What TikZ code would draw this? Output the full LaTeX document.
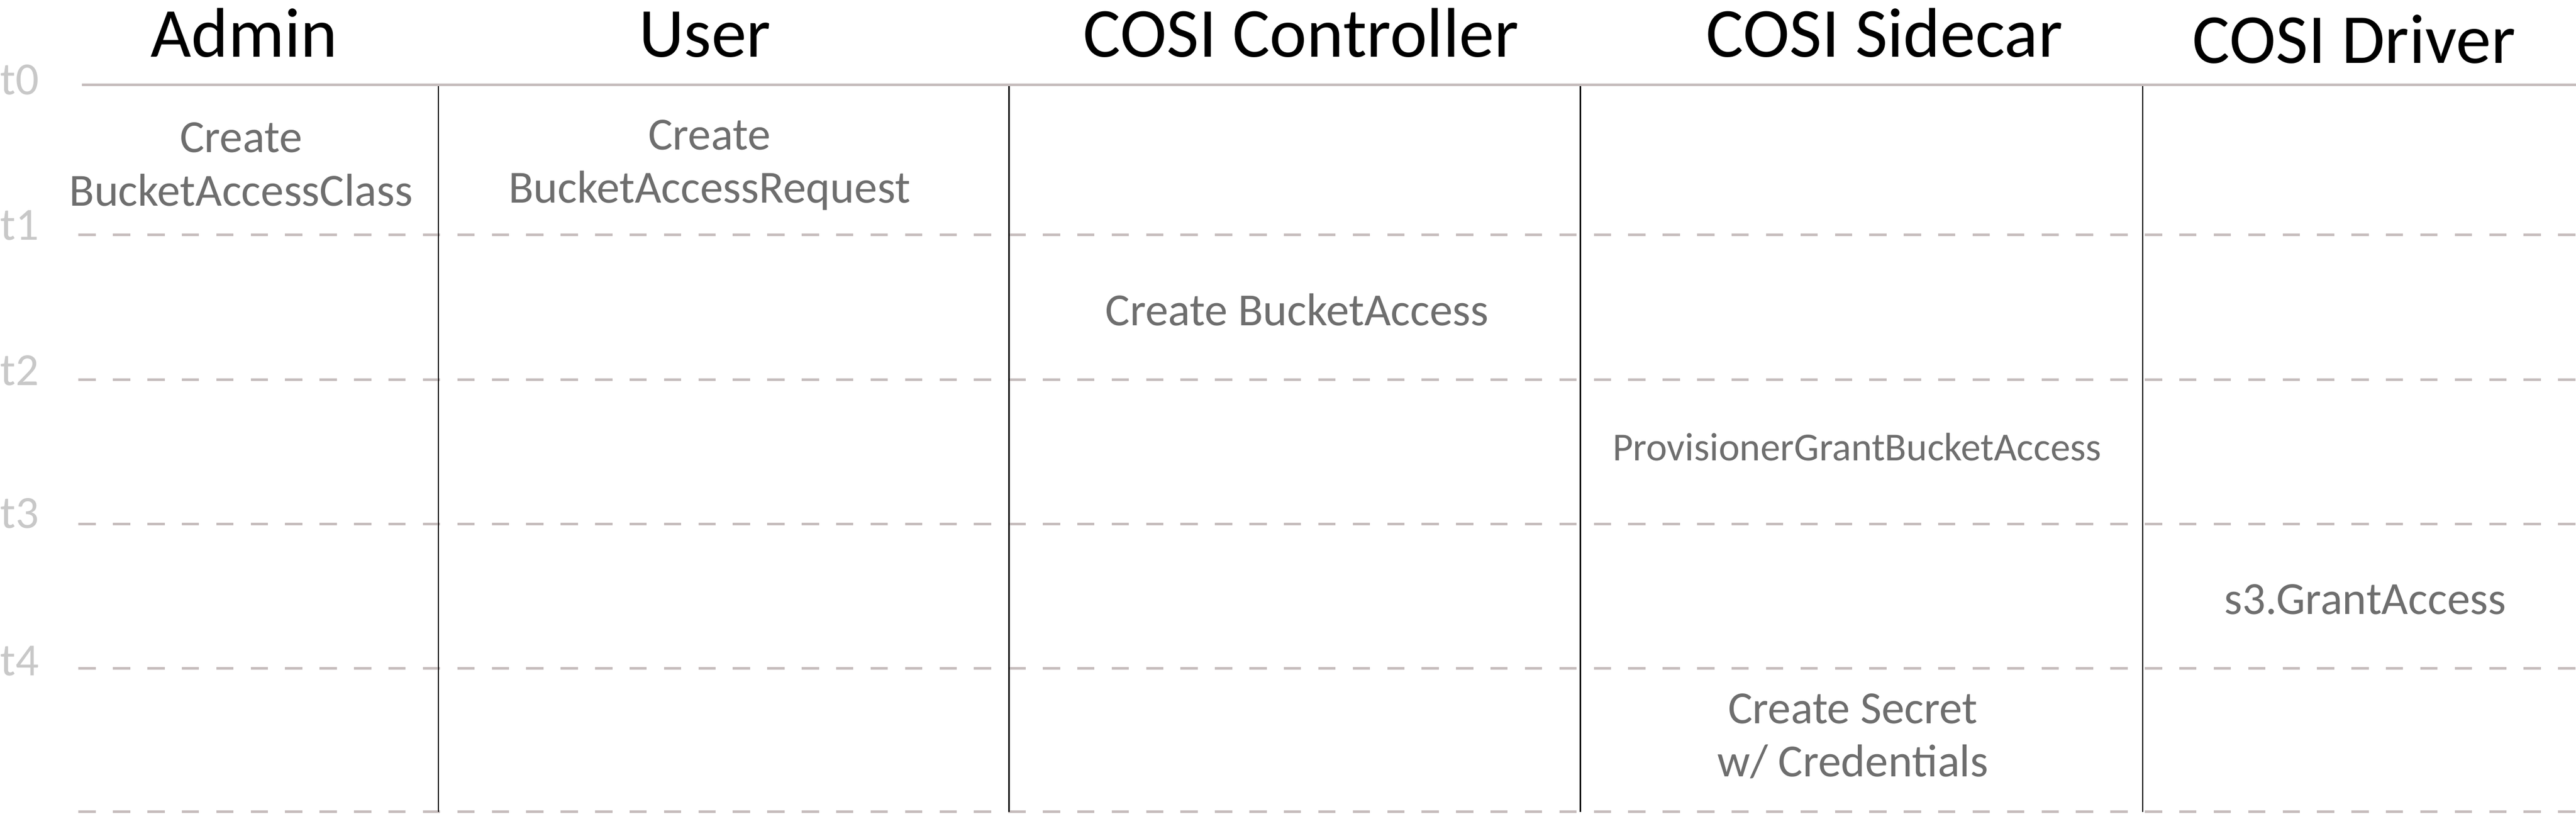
\documentclass[tikz,border=0pt]{standalone}
\usepackage{fontspec}
\setmainfont{Carlito}
\definecolor{gridline}{RGB}{198,189,189}
\definecolor{actiongray}{RGB}{110,110,110}
\definecolor{timegray}{RGB}{200,200,200}

\begin{document}
\begin{tikzpicture}
\tikzstyle{header}=[inner sep=0pt, anchor=base, font=\fontsize{29}{34}\selectfont]
\tikzstyle{action}=[inner sep=0pt, anchor=base, align=center, text=actiongray, font=\fontsize{19}{22}\selectfont]
\tikzstyle{timelabel}=[inner sep=0pt, anchor=base west, text=timegray, font=\fontsize{19}{22}\selectfont]
\tikzstyle{rowline}=[draw=gridline, line width=1.07pt, dash pattern=on 0.25cm off 0.25cm]
\tikzstyle{lane}=[draw=black, line width=0.57pt]

\useasboundingbox (0,0) rectangle (37.4,11.805);

% swimlane titles
\node[header] (admin) at (3.545,10.975) {Admin};
\node[header] (user) at (10.235,10.975) {User};
\node[header] (ctrl) at (18.89,10.975) {COSI Controller};
\node[header] (sidecar) at (27.36,10.975) {COSI Sidecar};
\node[header] (driver) at (34.18,10.89) {COSI Driver};

% time axis
\node[timelabel] (t0) at (0,10.43) {t0};
\node[timelabel] (t1) at (0,8.325) {t1};
\node[timelabel] (t2) at (0,6.215) {t2};
\node[timelabel] (t3) at (0,4.14) {t3};
\node[timelabel] (t4) at (0,2.005) {t4};

\draw[draw=gridline, line width=1.07pt] (1.19,10.5775) -- (37.4,10.5775);
\draw[rowline] (1.14,8.395) -- (37.4,8.395);
\draw[rowline] (1.14,6.295) -- (37.4,6.295);
\draw[rowline] (1.14,4.205) -- (37.4,4.205);
\draw[rowline] (1.14,2.11) -- (37.4,2.11);
\draw[rowline] (1.14,0.025) -- (37.4,0.025);

\draw[lane] (6.365,10.555) -- (6.365,0.025);
\draw[lane] (14.65,10.555) -- (14.65,0.025);
\draw[lane] (22.945,10.555) -- (22.945,0.025);
\draw[lane] (31.11,10.555) -- (31.11,0.025);

% steps (base = last line)
\node[action] (bac) at (3.5,8.82) {Create\\BucketAccessClass};
\node[action] (bar) at (10.3,8.86) {Create\\BucketAccessRequest};
\node[action] (ba) at (18.83,7.08) {Create BucketAccess};
\node[action, font=\fontsize{16.4}{20}\selectfont] (grant) at (26.96,5.12) {ProvisionerGrantBucketAccess};
\node[action] (s3) at (34.34,2.89) {s3.GrantAccess};
\node[action] (secret) at (26.9,0.535) {Create Secret\\w/ Credentials};

\end{tikzpicture}
\end{document}
